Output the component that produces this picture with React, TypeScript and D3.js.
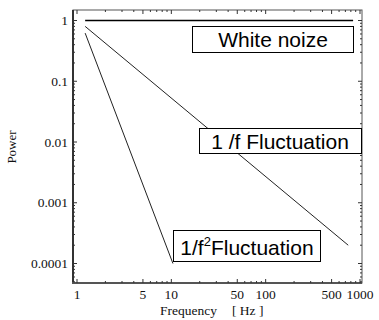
import * as d3 from "d3";

// series (frequency in Hz, power)
const whiteFreq = [1.22, 845];
const whitePower = [1, 1];
const pinkFreq = [1.22, 750];
const pinkPower = [0.8, 0.0002];
const brownFreq = [1.22, 10.4];
const brownPower = [0.62, 0.0001];

const xTickLabels = [1, 5, 10, 50, 100, 500, 1000];
const yTickLabels = [1, 0.1, 0.01, 0.001, 0.0001];

const width = 379;
const height = 320;
const frame = { left: 73, right: 362, top: 10, bottom: 283 };

export default function App() {
  const x = d3.scaleLog().domain([1, 1000]).range([77, 360]);
  const y = d3.scaleLog().domain([1, 0.0001]).range([20.5, 263.5]);

  // minor ticks: 1..9 per decade
  const xMinor: number[] = [];
  for (let k = 0; k < 3; k++) for (let m = 1; m < 10; m++) xMinor.push(m * 10 ** k);
  xMinor.push(1000);
  const yMinor: number[] = [];
  for (let k = -5; k < 1; k++)
    for (let m = 1; m < 10; m++) {
      const v = m * 10 ** k;
      if (y(v) > frame.top && y(v) < frame.bottom) yMinor.push(v);
    }

  const line = (fs: number[], ps: number[]) =>
    d3.line<number>()
      .x((d) => x(fs[d]))
      .y((d) => y(ps[d]))(d3.range(fs.length)) || "";

  const serif = "'Liberation Serif', 'Times New Roman', serif";
  const sans = "'Liberation Sans', Arial, sans-serif";
  const axisColor = "#555";

  const isMajorX = (v: number) => xTickLabels.includes(v);
  const isMajorY = (v: number) => yTickLabels.some((t) => Math.abs(t - v) / t < 1e-9);

  return (
    <svg
      width={width}
      height={height}
      style={{ position: "absolute", left: 0, top: 0, background: "#fff" }}
    >
      {/* frame */}
      <rect
        x={frame.left}
        y={frame.top}
        width={frame.right - frame.left}
        height={frame.bottom - frame.top}
        fill="none"
        stroke={axisColor}
        strokeWidth={1}
      />
      <line x1={frame.left} x2={frame.left} y1={frame.top} y2={frame.bottom + 1} stroke="#333" strokeWidth={2} />
      <line x1={frame.left - 1} x2={frame.right} y1={frame.bottom} y2={frame.bottom} stroke={axisColor} strokeWidth={2} />

      {/* x ticks, bottom and top */}
      {xMinor.map((v, i) => {
        const len = isMajorX(v) ? 4 : 2;
        return (
          <g key={"xt" + i} stroke="#333" strokeWidth={1}>
            <line x1={x(v)} x2={x(v)} y1={frame.bottom} y2={frame.bottom - len} />
            <line x1={x(v)} x2={x(v)} y1={frame.top} y2={frame.top + len} />
          </g>
        );
      })}
      {/* y ticks, left and right */}
      {yMinor.map((v, i) => {
        const len = isMajorY(v) ? 4 : 2;
        return (
          <g key={"yt" + i} stroke="#333" strokeWidth={1}>
            <line x1={frame.left} x2={frame.left + len} y1={y(v)} y2={y(v)} />
            <line x1={frame.right} x2={frame.right - len} y1={y(v)} y2={y(v)} />
          </g>
        );
      })}

      {/* tick labels */}
      {xTickLabels.map((v) => (
        <text key={"xl" + v} x={x(v)} y={299} textAnchor="middle" fontFamily={serif} fontSize={13.5} fill="#111">
          {v}
        </text>
      ))}
      {yTickLabels.map((v) => (
        <text key={"yl" + v} x={68} y={y(v) + 4.5} textAnchor="end" fontFamily={serif} fontSize={13.5} fill="#111">
          {String(v)}
        </text>
      ))}

      {/* axis titles */}
      <text
        transform={`translate(16, 147) rotate(-90)`}
        textAnchor="middle"
        fontFamily={serif}
        fontSize={13}
        fill="#111"
      >
        Power
      </text>
      <text x={160} y={315} fontFamily={serif} fontSize={13.5} fill="#111">
        Frequency
      </text>
      <text x={232} y={315} fontFamily={serif} fontSize={13.5} fill="#111" xmlSpace="preserve">
        {"[ Hz ]"}
      </text>

      {/* series */}
      <path d={line(whiteFreq, whitePower)} fill="none" stroke="#000" strokeWidth={1.6} />
      <path d={line(pinkFreq, pinkPower)} fill="none" stroke="#222" strokeWidth={1} />
      <path d={line(brownFreq, brownPower)} fill="none" stroke="#222" strokeWidth={1} />

      {/* labels */}
      <rect x={192.5} y={26.5} width={161} height={26} fill="#fff" stroke="#000" />
      <text x={273} y={46.5} textAnchor="middle" fontFamily={sans} fontSize={21} fill="#000">
        White noize
      </text>

      <rect x={199.5} y={128.5} width={162} height={25} fill="#fff" stroke="#000" />
      <text x={280} y={148.5} textAnchor="middle" fontFamily={sans} fontSize={21} fill="#000">
        1 /f Fluctuation
      </text>

      <rect x={173.5} y={230.5} width={147} height={31} fill="#fff" stroke="#000" />
      <text x={247} y={254.5} textAnchor="middle" fontFamily={sans} fontSize={21} fill="#000">
        1/f
        <tspan dy={-9} fontSize={13}>2</tspan>
        <tspan dy={9}>Fluctuation</tspan>
      </text>
    </svg>
  );
}
